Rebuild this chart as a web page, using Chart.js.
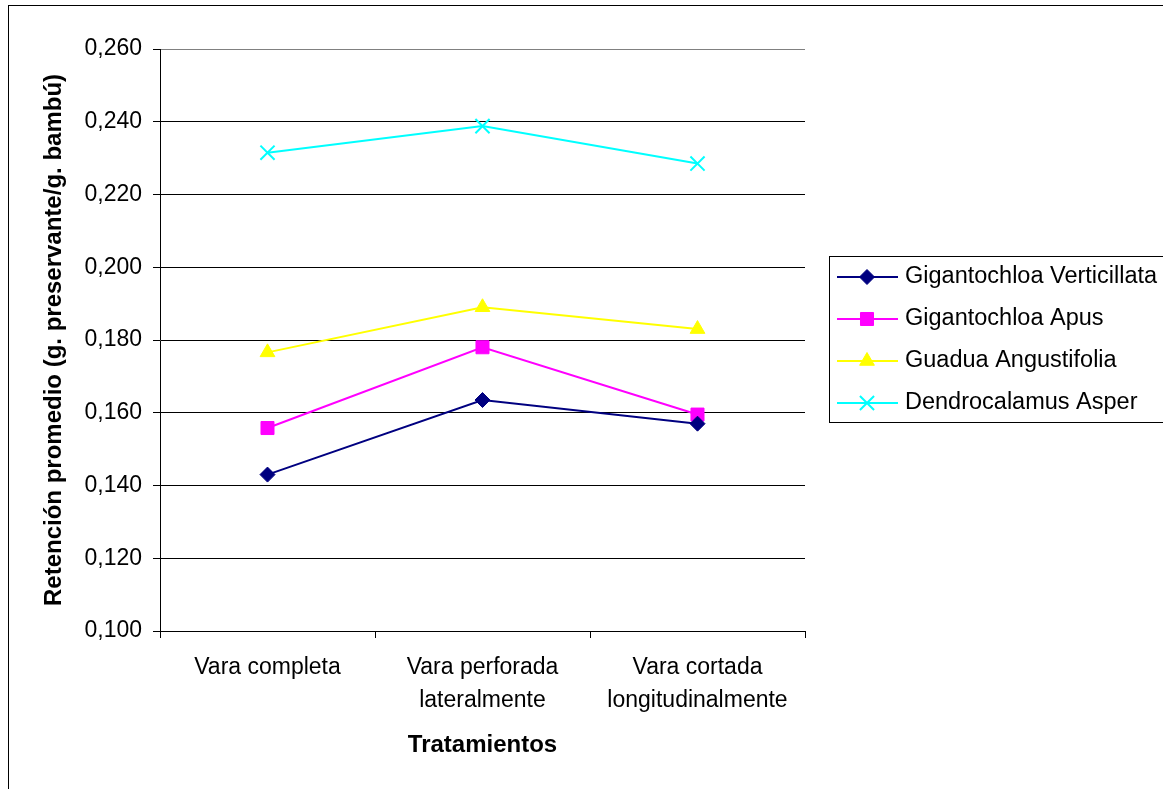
<!DOCTYPE html>
<html>
<head>
<meta charset="utf-8">
<script src="https://cdn.jsdelivr.net/npm/chart.js@4.4.1/dist/chart.umd.min.js"></script>
<style>
  html, body { margin: 0; padding: 0; background: #fff; }
  #wrap { width: 1163px; height: 789px; }
</style>
</head>
<body>
<div id="wrap"><canvas id="c" width="1163" height="789"></canvas></div>
<script>
// Treatments (x categories)
const categories = [
  'Vara completa',
  ['Vara perforada', 'lateralmente'],
  ['Vara cortada', 'longitudinalmente']
];

// Average retention per species (g. preservante / g. bambú)
const seriesNames = [
  'Gigantochloa Verticillata',
  'Gigantochloa Apus',
  'Guadua Angustifolia',
  'Dendrocalamus Asper'
];
const verticillata = [0.143, 0.1635, 0.157];
const apus = [0.1558, 0.178, 0.1595];
const angustifolia = [0.1766, 0.189, 0.183];
const asper = [0.2315, 0.2388, 0.2285];

// Y axis tick values
const yTicks = [0.100, 0.120, 0.140, 0.160, 0.180, 0.200, 0.220, 0.240, 0.260];

const FONT = '"Liberation Sans", Arial, sans-serif';

function fmt(v) { return v.toFixed(3).replace('.', ','); }

const styles = [
  { color: '#000080', point: 'rectRot', radius: 7.5, bw: 1 },
  { color: '#FF00FF', point: 'rect', radius: 9.2, bw: 1 },
  { color: '#FFFF00', point: 'triangle', radius: 8.5, bw: 1 },
  { color: '#00FFFF', point: 'crossRot', radius: 10, bw: 2 }
];
const values = [verticillata, apus, angustifolia, asper];

const datasets = values.map((d, i) => ({
  label: seriesNames[i],
  data: d,
  borderColor: styles[i].color,
  backgroundColor: styles[i].color,
  borderWidth: 2,
  pointStyle: styles[i].point,
  pointRadius: styles[i].radius,
  pointHoverRadius: styles[i].radius,
  pointBorderWidth: styles[i].bw,
  pointBackgroundColor: styles[i].color,
  pointBorderColor: styles[i].color,
  tension: 0
}));

// Page frame, white background and the boxed legend on the right
const framePlugin = {
  id: 'frame',
  beforeDraw(chart) {
    const ctx = chart.ctx;
    ctx.save();
    ctx.fillStyle = '#fff';
    ctx.fillRect(0, 0, chart.width, chart.height);
    ctx.strokeStyle = '#000';
    ctx.lineWidth = 1;
    ctx.strokeRect(8.5, 5.5, 2000, 2000);
    ctx.restore();
  },
  afterDraw(chart) {
    const ctx = chart.ctx;
    ctx.save();
    ctx.fillStyle = '#fff';
    ctx.fillRect(829.5, 256.5, 400, 166);
    ctx.strokeStyle = '#000';
    ctx.lineWidth = 1;
    ctx.strokeRect(829.5, 256.5, 400, 166);
    ctx.font = '23.5px ' + FONT;
    ctx.textBaseline = 'middle';
    ctx.textAlign = 'left';
    chart.data.datasets.forEach((ds, i) => {
      const y = 277 + i * 42;
      ctx.strokeStyle = ds.borderColor;
      ctx.lineWidth = 2;
      ctx.beginPath();
      ctx.moveTo(837, y);
      ctx.lineTo(898, y);
      ctx.stroke();
      ctx.fillStyle = ds.pointBackgroundColor;
      ctx.strokeStyle = ds.pointBorderColor;
      ctx.lineWidth = ds.pointBorderWidth;
      Chart.helpers.drawPoint(ctx, { pointStyle: ds.pointStyle, radius: ds.pointRadius, rotation: 0, borderWidth: ds.pointBorderWidth }, 867, y);
      ctx.fillStyle = '#000';
      ctx.fillText(ds.label, 905, y);
    });
    ctx.restore();
  }
};

new Chart(document.getElementById('c'), {
  type: 'line',
  data: { labels: categories, datasets },
  options: {
    responsive: false,
    animation: false,
    events: [],
    layout: { padding: { left: 8, top: 49, right: 358, bottom: 0 } },
    plugins: {
      legend: { display: false },
      tooltip: { enabled: false }
    },
    scales: {
      x: {
        type: 'category',
        offset: true,
        afterFit(scale) { scale.height = 158; },
        grid: {
          offset: true,
          drawOnChartArea: true,
          drawTicks: true,
          tickLength: 7,
          tickColor: '#000',
          color: (ctx) => ctx.index === categories.length ? '#808080' : 'rgba(0,0,0,0)',
          lineWidth: 1
        },
        border: { display: true, color: '#000', width: 1 },
        ticks: {
          color: '#000',
          padding: 14,
          maxRotation: 0,
          autoSkip: false,
          font: { family: FONT, size: 23, lineHeight: 1.4 }
        },
        title: {
          display: true,
          text: 'Tratamientos',
          color: '#000',
          font: { family: FONT, size: 24, weight: 'bold', lineHeight: 1.2 },
          padding: { top: 0, bottom: 29 }
        }
      },
      y: {
        min: 0.1,
        max: 0.26,
        afterFit(scale) { scale.width = 152; },
        afterBuildTicks(scale) { scale.ticks = yTicks.map(v => ({ value: v })); },
        grid: {
          drawTicks: true,
          tickLength: 7,
          tickColor: '#000',
          color: (ctx) => ctx.index === yTicks.length - 1 ? '#808080' : '#000',
          lineWidth: 1
        },
        border: { display: true, color: '#000', width: 1 },
        ticks: {
          color: '#000',
          padding: 11,
          callback: (v) => fmt(v),
          font: { family: FONT, size: 23 }
        },
        title: {
          display: true,
          text: 'Retención promedio (g. preservante/g. bambú)',
          color: '#000',
          font: { family: FONT, size: 24, weight: 'bold', lineHeight: 1.2 },
          padding: { top: 32, bottom: 0 }
        }
      }
    }
  },
  plugins: [framePlugin]
});
</script>
</body>
</html>
